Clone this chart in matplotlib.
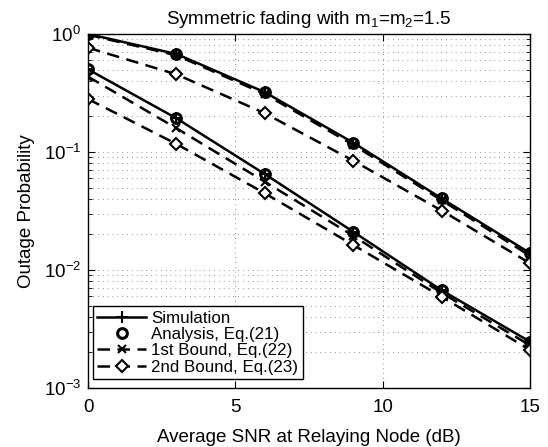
import matplotlib
matplotlib.use("Agg")
import matplotlib.pyplot as plt
import numpy as np

plt.rcParams['font.family'] = ['Liberation Sans', 'DejaVu Sans']
plt.rcParams['mathtext.default'] = 'regular'

snr = [0, 3, 6, 9, 12, 15]

# upper group
sim_hi = [1.0, 0.677, 0.321, 0.120, 0.0404, 0.0139]
ana_hi = [1.0, 0.677, 0.321, 0.120, 0.0404, 0.0139]
b1_hi = [0.985, 0.66, 0.31, 0.115, 0.0390, 0.0132]
b2_hi = [0.765, 0.455, 0.213, 0.0844, 0.0319, 0.0114]

# lower group
sim_lo = [0.502, 0.193, 0.065, 0.0211, 0.00673, 0.00247]
ana_lo = [0.502, 0.193, 0.065, 0.0211, 0.00673, 0.00247]
b1_lo = [0.435, 0.159, 0.056, 0.0195, 0.0064, 0.0023]
b2_lo = [0.281, 0.117, 0.0447, 0.0163, 0.00594, 0.0021]

xticks = [0, 5, 10, 15]
title = "Symmetric fading with m$_1$=m$_2$=1.5"
xlabel = "Average SNR at Relaying Node (dB)"
ylabel = "Outage Probability"
labels = ["Simulation", "Analysis, Eq.(21)", "1st Bound, Eq.(22)", "2nd Bound, Eq.(23)"]

fig = plt.figure(figsize=(5.48, 4.47), dpi=100)
ax = fig.add_axes([88/548, 1-388/447, (530-88)/548, (388-34)/447])

dash = (5, 3)
handles = []
for k, (s, a, b1, b2) in enumerate([(sim_hi, ana_hi, b1_hi, b2_hi), (sim_lo, ana_lo, b1_lo, b2_lo)]):
    h1, = ax.plot(snr, s, '-', color='k', lw=1.8, marker='+', ms=8, mew=1.5)
    h2, = ax.plot(snr, a, 'o', color='k', ms=7, mfc='none', mew=2.2)
    h3, = ax.plot(snr, b1, '--', color='k', lw=1.8, marker='x', ms=6, mew=1.5, dashes=dash)
    h4, = ax.plot(snr, b2, '--', color='k', lw=1.8, marker='D', ms=6, mfc='white', mew=1.5, dashes=dash)
    if k == 0:
        handles = [h1, h2, h3, h4]

ax.set_yscale('log')
ax.set_xlim(0, 15)
ax.set_ylim(1e-3, 1)
ax.set_xticks(xticks)
ax.set_xticklabels([str(t) for t in xticks])
ax.tick_params(which='both', direction='in', top=True, right=True, labelsize=13.5, colors='k')
ax.tick_params(which='major', length=5)
ax.tick_params(which='minor', length=3)
ax.tick_params(axis='x', pad=8)
ax.tick_params(axis='y', pad=5)
ax.grid(True, which='major', color='k', linestyle=(0, (0.8, 5)), lw=0.6, alpha=0.7)
ax.grid(True, which='minor', axis='y', color='k', linestyle=(0, (0.8, 5)), lw=0.6, alpha=0.7)
for sp in ax.spines.values():
    sp.set_linewidth(1.0)

ax.set_title(title, fontsize=13.5, pad=7)
ax.set_xlabel(xlabel, fontsize=13.5, labelpad=9)
ax.set_ylabel(ylabel, fontsize=13.5, labelpad=6)

leg = ax.legend(handles, labels, loc='lower left', bbox_to_anchor=(5/442, 9/354),
                fontsize=12.2, frameon=True, fancybox=False,
                edgecolor='k', framealpha=1, handlelength=2.9, handletextpad=0.3,
                labelspacing=0.08, borderpad=0.25, borderaxespad=0.0)
leg.get_frame().set_linewidth(1.0)

fig.savefig("out.png", dpi=100)
